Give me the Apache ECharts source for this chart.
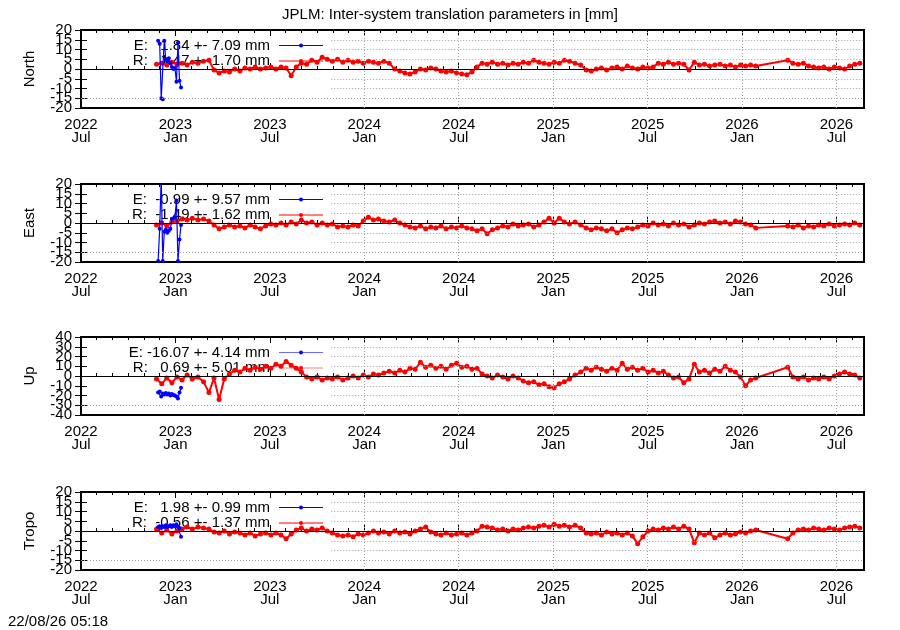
<!DOCTYPE html>
<html>
<head>
<meta charset="utf-8">
<title>JPLM translation parameters</title>
<script src="https://cdn.jsdelivr.net/npm/echarts@6/dist/echarts.min.js"></script>
<style>
html, body { margin: 0; padding: 0; background: #fff; }
#chart { width: 900px; height: 630px; }
</style>
</head>
<body>
<div id="chart"></div>
<script>
// ---------------- data ----------------
// x ticks every 6 months starting 2022 Jul
var xTickLabels = ['2022\nJul', '2023\nJan', '2023\nJul', '2024\nJan', '2024\nJul',
                   '2025\nJan', '2025\nJul', '2026\nJan', '2026\nJul'];

var panelNames = ['North', 'East', 'Up', 'Tropo'];
var yLimits    = [20, 20, 40, 20];
var yIntervals = [5, 5, 10, 5];

var legendE = ['E:   1.84 +- 7.09 mm', 'E:  -0.99 +- 9.57 mm', 'E: -16.07 +- 4.14 mm', 'E:   1.98 +- 0.99 mm'];
var legendR = ['R:   1.47 +- 1.70 mm', 'R:  -1.49 +- 1.62 mm', 'R:   0.69 +- 5.01 mm', 'R:  -0.56 +- 1.37 mm'];

// R solutions: one value every 10 days from 2022-11-25 (null = no solution)
var redStart = '2022-11-25';
var redStepDays = 10;

var northR = [2.5, 3, 2, 3.5, 2.5, 3, 2, 3.5, 3, 4,
  4.5, -0.5, -2, -1, -1.5, 0, -1, 0.5, 0, 1,
  0, 0.5, 1, 0, 1, 0.5, -3.5, 1, 3, 2.5,
  4.5, 3.5, 6, 5, 4, 5, 3.5, 4.5, 3.5, 4,
  3, 4, 3.5, 3, 4, 3, 0, -1, -2, -2.5,
  -1.5, 0, -0.5, 0.5, 0, -1, -1.5, -1, -2, -2.5,
  -3, -1.5, 1, 3, 2.5, 3.5, 2.5, 3, 2, 3,
  2.5, 3.5, 3, 4.5, 3.5, 3, 2.5, 3.5, 3, 4.5,
  4, 3, 2, -0.5, -1, 0, 0.5, -0.5, 0.5, 1,
  0, 1.5, 0.5, 0, 1, 0.5, 1, 3, 2.5, 3.5,
  2.5, 3, 2.5, -0.5, 3.5, 2, 2.5, 1.5, 2, 2.5,
  1.5, 2, 1, 2, 1.5, 2, 1.5, null, null, null,
  null, null, 4.5, 3, 2.5, 3, 1.5, 1, 0.5, 1,
  0, 1, 0.5, 0, 1.5, 2.5, 3];

var eastR = [-1, 0, -1.5, 0.5, 1, 2, 1.5, 2.5, 1.5, 2,
  1, -1, -3, -2, -1, -2, -1.5, -2.5, -1, -2,
  -3, -1.5, -0.5, -1, 0, -1, 0.5, -0.5, 1.5, 0,
  0.5, -1, 0, -1, -0.5, -2, -1.5, -2, -1, -1.5,
  1, 3, 1.5, 2, 1, 0.5, 1.5, 0, -1, -2,
  -2.5, -1.5, -3, -2, -2.5, -1.5, -3, -2, -2.5, -1.5,
  -2.5, -3, -4, -3, -5.5, -3.5, -2.5, -1.5, -2, -0.5,
  -1.5, -1, -0.5, -2, -1, 0.5, 2.5, 0, 2.5, 0.5,
  -0.5, 0.5, -1, -2.5, -3.5, -2.5, -3, -4, -3, -5,
  -3.5, -2.5, -3, -2, -1, -1.5, 0, -1, -0.5, -1.5,
  0, -1, -0.5, -2, -1, 0, -0.5, 0.5, 1, 0,
  0.5, -0.5, 1, 0.5, -0.5, -1, -2.5, null, null, null,
  null, null, -1.5, -2, -1, -2.5, -1.5, -2, -1, -1.5,
  -0.5, -1.5, -1, -0.5, -1, 0, -1];

var upR = [-3, -8, -2, -7, -1, -4, 1, -3, -1, -6,
  -17, -2, -24, -3, 2, 6, 4, 8, 6, 9,
  7, 10, 8, 12, 10, 15, 11, 8, 4, -1,
  -3, -1, -4, -2, -3, -1, -4, -2, 0, -2,
  1, -1, 2, 1, 3, 5, 3, 6, 4, 8,
  7, 14, 9, 11, 8, 10, 7, 11, 13, 9,
  10, 7, 8, 2, 0, -2, 1, -1, -3, 0,
  -2, -5, -7, -6, -9, -8, -11, -12, -8, -6,
  -3, 1, 4, 8, 6, 9, 7, 5, 8, 6,
  13, 7, 9, 6, 8, 4, 6, 3, 5, 1,
  -2, -1, -7, -3, 12, 4, 6, 3, 7, 5,
  10, 6, 4, -1, -10, -4, -2, null, null, null,
  null, null, 9, -1, -3, -1, -4, -2, -3, -1,
  -3, 0, 2, 4, 2, 1, -2];

var tropoR = [1, -1, 0.5, -1.5, 0, 1, 2, 1, 2, 1.5,
  1, -0.5, -1, 0, -1.5, -0.5, -1, -2, -1, -2.5,
  -1.5, -1, -2, -1, -2, -4, -1.5, 0.5, 1.5, 0,
  1, 0.5, 1.5, 0, -1, -2, -2.5, -2, -3, -1.5,
  -2, -1, 0, -1, -0.5, -1.5, 0, -1, -0.5, -1.5,
  0, 1, 2, -0.5, -1.5, -2, -1, -2, -1.5, -1,
  -2, -1, 0, 2.5, 2, 1.5, 0.5, 1, 0, 1,
  0.5, 1.5, 2, 1.5, 2.5, 3, 2, 3.5, 2.5, 3,
  2, 3, 1.5, -1, -1.5, -1, -2, -0.5, -1.5, -1,
  -2, -1, -2.5, -6.5, -3, 0, 1, 0.5, 1.5, 1,
  2, 1, 2.5, 1, -6, -1, -2, -1, -3.5, -2,
  -1, -2, -1.5, -0.5, -1, 0, 0.5, null, null, null,
  null, null, -4, -1, 0.5, 1, 0.5, 1.5, 1, 0.5,
  1.5, 1, 0.5, 1.5, 2, 2.5, 1.5];

// E solutions, first weeks only
var blueDates = ['2022-11-28', '2022-12-01', '2022-12-04', '2022-12-07', '2022-12-10', '2022-12-13',
                 '2022-12-16', '2022-12-19', '2022-12-22', '2022-12-25', '2022-12-28', '2022-12-31',
                 '2023-01-03', '2023-01-06', '2023-01-09', '2023-01-12'];
var northE = [14.5, 13, -15, -15.5, 14.5, 5, 4, 5.5, 3, 1, 0, 0.5, -6.5, 13.5, -6, -9.5];
var eastE  = [-19.5, -3, 24, -19.5, -4.5, -3.5, -5, -4, -3, 2, 2.5, 3, 11.5, -19.5, -8.5, -1];
var upE    = [-17, -16, -21, -18, -19, -17.5, -19, -18, -20, -18.5, -19.5, -20, -21, -23, -17, -12];
var tropoE = [2, 2.5, 1.5, 2.5, 2, 3, 2, 2.5, 3, 2, 3, 2.5, 3.5, 2, 1.5, -3];

var redValues  = [northR, eastR, upR, tropoR];
var blueValues = [northE, eastE, upE, tropoE];

// ---------------- layout ----------------
var FONT = 'Liberation Sans, Arial, sans-serif';
var X_MAX = 49.75;          // months after 2022-07-01 (~22 Aug 2026)
var KEY_END = 15.9;         // key box covers the grid up to here
var tops = [30, 184, 337, 492];
var panelH = 78;
var DAY = 86400000;

function parseDay(s) {
    var p = s.split('-');
    return Date.UTC(+p[0], +p[1] - 1, +p[2]);
}
// time -> months since 2022 Jul 1
function toMonths(ms) {
    var d = new Date(ms);
    var y = d.getUTCFullYear(), m = d.getUTCMonth(), day = d.getUTCDate();
    var dim = new Date(Date.UTC(y, m + 1, 0)).getUTCDate();
    return (y - 2022) * 12 + (m - 6) + (day - 1) / dim;
}

var grids = [], xAxes = [], yAxes = [], series = [], graphics = [];

for (var i = 0; i < 4; i++) {
    var lim = yLimits[i], step = yIntervals[i];
    grids.push({
        left: 81, right: 36, top: tops[i], height: panelH,
        show: true, borderColor: '#000', borderWidth: 2, backgroundColor: 'transparent'
    });

    // bottom: major ticks + labels, then monthly minor ticks; top: mirrors
    ['bottom', 'top'].forEach(function (pos) {
        xAxes.push({
            gridIndex: i, type: 'value', position: pos, min: 0, max: X_MAX, interval: 6,
            axisLine: { show: false },
            axisTick: { show: true, inside: true, length: 6, lineStyle: { color: '#000', width: 1 } },
            axisLabel: {
                show: pos === 'bottom', color: '#000', fontSize: 15, fontFamily: FONT,
                lineHeight: 13.5, margin: 10, hideOverlap: false,
                formatter: function (v) {
                    var n = v / 6;
                    return (Math.abs(n - Math.round(n)) < 1e-6 && xTickLabels[Math.round(n)]) || '';
                }
            },
            splitLine: { show: false }
        });
        xAxes.push({
            gridIndex: i, type: 'value', position: pos, min: 0, max: X_MAX, interval: 1,
            axisLine: { show: false },
            axisTick: { show: true, inside: true, length: 3, lineStyle: { color: '#000', width: 1 } },
            axisLabel: { show: false },
            splitLine: { show: false }
        });
    });

    // y labels are placed below (they overlap on purpose, like the original)
    yAxes.push({
        gridIndex: i, type: 'value', position: 'left', min: -lim, max: lim, interval: step,
        name: panelNames[i], nameLocation: 'middle', nameGap: 44,
        nameTextStyle: { color: '#000', fontSize: 15, fontFamily: FONT },
        axisLine: { show: false },
        axisTick: { show: true, inside: true, length: 6, lineStyle: { color: '#000' } },
        axisLabel: { show: false },
        splitLine: { show: false }
    });
    yAxes.push({
        gridIndex: i, type: 'value', position: 'right', min: -lim, max: lim, interval: step,
        axisLine: { show: false },
        axisTick: { show: true, inside: true, length: 6, lineStyle: { color: '#000' } },
        axisLabel: { show: false },
        splitLine: { show: false }
    });

    var xb = i * 4, yl = i * 2;

    // dotted grid + zero line (hidden behind the key box on the left)
    var gridStyle = { type: [1, 2], color: '#a0a0a0', width: 1 };
    var ml = [];
    [3, 2, 1, -1, -2].forEach(function (f) {
        ml.push([{ coord: [KEY_END, f * step] }, { coord: [X_MAX, f * step] }]);
    });
    ml.push({ yAxis: -3 * step });
    for (var gx = 18; gx <= 48; gx += 6) ml.push({ xAxis: gx });
    ml.push({ yAxis: 0, lineStyle: { type: 'solid', color: '#000', width: 1.2 } });
    series.push({
        type: 'line', xAxisIndex: xb, yAxisIndex: yl, data: [], z: 1, silent: true,
        markLine: {
            silent: true, symbol: ['none', 'none'], label: { show: false },
            lineStyle: gridStyle, animation: false, data: ml
        }
    });

    // R series
    var rd = [], t0 = parseDay(redStart), vals = redValues[i];
    for (var k = 0; k < vals.length; k++) {
        if (vals[k] === null) continue;
        rd.push([toMonths(t0 + k * redStepDays * DAY), vals[k]]);
    }
    series.push({
        name: legendR[i], type: 'line', xAxisIndex: xb, yAxisIndex: yl, data: rd,
        symbol: 'circle', symbolSize: 5, showSymbol: true, clip: true, z: 2,
        itemStyle: { color: '#ff0000' }, lineStyle: { color: '#ff0000', width: 2 }
    });

    // E series
    var bd = [], bv = blueValues[i];
    for (var b = 0; b < blueDates.length; b++) {
        bd.push([toMonths(parseDay(blueDates[b])), bv[b]]);
    }
    series.push({
        name: legendE[i], type: 'line', xAxisIndex: xb, yAxisIndex: yl, data: bd,
        symbol: 'circle', symbolSize: 4, showSymbol: true, clip: true, z: 3,
        itemStyle: { color: '#0000ff' }, lineStyle: { color: '#0000ff', width: 1.2 }
    });

    // key (gnuplot style: text right-aligned, sample on the right)
    var light = (i === 2);
    var keyRows = [
        { text: legendE[i], y: tops[i] + 15.5, line: light ? '#6b6bff' : '#0000ff', dot: '#0000ff' },
        { text: legendR[i], y: tops[i] + 31, line: light ? '#ff8080' : '#ff0000', dot: '#ff0000' }
    ];
    keyRows.forEach(function (r) {
        graphics.push({
            type: 'text', z: 1, silent: true,
            style: { text: r.text, x: 270, y: r.y, font: '15px ' + FONT, fill: '#000',
                     align: 'right', verticalAlign: 'middle', textAlign: 'right', textVerticalAlign: 'middle' }
        });
        graphics.push({
            type: 'line', z: 1, silent: true,
            shape: { x1: 279, y1: r.y, x2: 323, y2: r.y },
            style: { stroke: r.line, lineWidth: 1.2 }
        });
        graphics.push({
            type: 'circle', z: 1, silent: true,
            shape: { cx: 301, cy: r.y, r: 2 },
            style: { fill: r.dot }
        });
    });
}

graphics.push({
    type: 'text', silent: true,
    style: { text: '22/08/26 05:18', x: 8, y: 622, font: '15px ' + FONT, fill: '#000',
             align: 'left', verticalAlign: 'middle', textAlign: 'left', textVerticalAlign: 'middle' }
});

var chart = echarts.init(document.getElementById('chart'), null, { renderer: 'canvas' });
chart.setOption({
    animation: false,
    backgroundColor: '#fff',
    title: {
        text: 'JPLM: Inter-system translation parameters in [mm]',
        left: 'center', top: 2,
        textStyle: { color: '#000', fontSize: 15, fontWeight: 'normal', fontFamily: FONT }
    },
    grid: grids,
    xAxis: xAxes,
    yAxis: yAxes,
    series: series
});

// y tick labels at every tick, positioned through the axis scale
for (var p = 0; p < 4; p++) {
    for (var v = -yLimits[p]; v <= yLimits[p]; v += yIntervals[p]) {
        var py = chart.convertToPixel({ yAxisIndex: p * 2 }, v);
        graphics.push({
            type: 'text', silent: true,
            style: { text: String(v), x: 72, y: py, font: '15px ' + FONT, fill: '#000',
                     align: 'right', verticalAlign: 'middle', textAlign: 'right', textVerticalAlign: 'middle' }
        });
    }
}
chart.setOption({ graphic: graphics });
</script>
</body>
</html>
